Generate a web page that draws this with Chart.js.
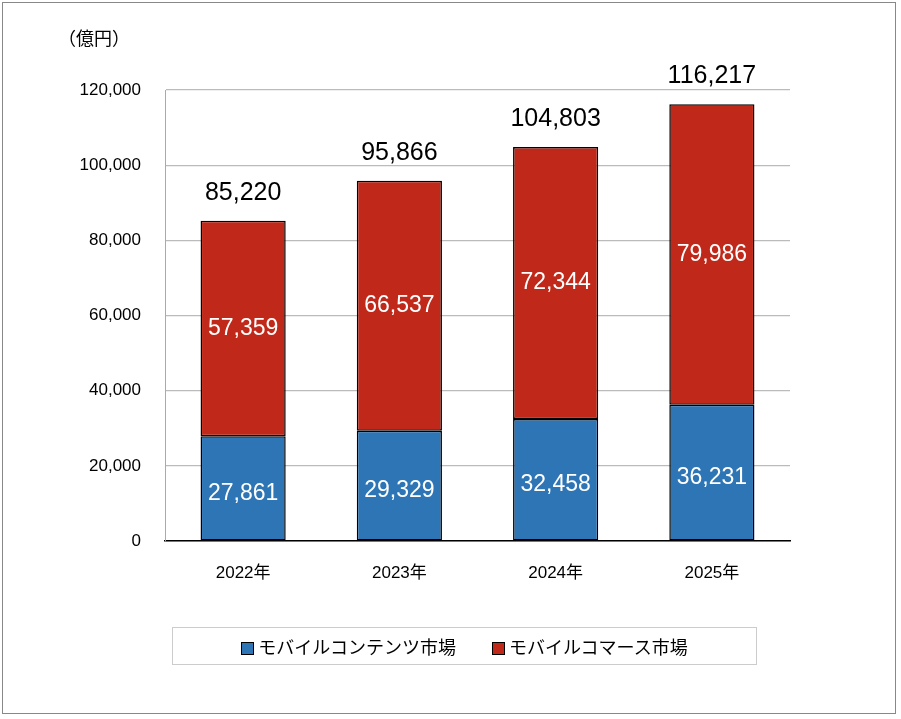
<!DOCTYPE html>
<html><head><meta charset="utf-8">
<script src="https://cdn.jsdelivr.net/npm/chart.js@4"></script>
<style>
body{margin:0;background:#fff;font-family:"Liberation Sans","Noto Sans CJK JP",sans-serif;}
#wrap{position:relative;width:901px;height:719px;}
#frame{position:absolute;left:2px;top:2px;width:894px;height:712px;border:1px solid #888;box-sizing:border-box;}
#unit{position:absolute;left:58px;top:24px;font-size:18px;color:#000;}
#legend{position:absolute;left:172px;top:627px;width:585px;height:38px;border:1px solid #ccc;box-sizing:border-box;display:flex;align-items:center;justify-content:center;gap:36px;font-size:18px;}
.sw{display:inline-block;width:11px;height:11px;border:1px solid #000;margin-right:4px;vertical-align:-1px;}
</style></head><body>
<div id="wrap">
<canvas id="c" width="901" height="719"></canvas>
<div id="frame"></div>
<div id="unit">（億円）</div>
<div id="legend">
<span><span class="sw" style="background:#2E75B6"></span>モバイルコンテンツ市場</span>
<span><span class="sw" style="background:#C0291A"></span>モバイルコマース市場</span>
</div>
</div>
<script>
const years = ['2022年', '2023年', '2024年', '2025年'];
const contents = [27861, 29329, 32458, 36231];
const commerce = [57359, 66537, 72344, 79986];
const totals = [85220, 95866, 104803, 116217];
const FONT = '"Liberation Sans","Noto Sans CJK JP",sans-serif';

const labelPlugin = {
  id: 'labels',
  afterDatasetsDraw(chart) {
    const ctx = chart.ctx;
    ctx.save();
    ctx.textAlign = 'center';
    ctx.textBaseline = 'middle';
    chart.data.datasets.forEach((ds, i) => {
      chart.getDatasetMeta(i).data.forEach((bar, j) => {
        ctx.fillStyle = '#fff';
        ctx.font = '23px ' + FONT;
        const mid = (bar.y + bar.base) / 2;
        ctx.fillText(ds.data[j].toLocaleString('en-US'), bar.x, i === 0 ? mid + 5 : mid);
      });
    });
    const top = chart.getDatasetMeta(1).data;
    ctx.fillStyle = '#000';
    ctx.font = '25px ' + FONT;
    top.forEach((bar, j) => {
      ctx.fillText(totals[j].toLocaleString('en-US'), bar.x, chart.scales.y.getPixelForValue(totals[j]) - 28);
    });
    ctx.restore();
  }
};

new Chart(document.getElementById('c'), {
  type: 'bar',
  data: {
    labels: years,
    datasets: [
      { data: contents, backgroundColor: '#2E75B6', borderColor: '#000', borderWidth: 1.5, borderSkipped: false },
      { data: commerce, backgroundColor: '#C0291A', borderColor: '#000', borderWidth: 1.5, borderSkipped: false }
    ]
  },
  options: {
    responsive: false,
    animation: false,
    layout: { padding: { top: 90, right: 111, bottom: 118, left: 0 } },
    plugins: { legend: { display: false }, tooltip: { enabled: false } },
    datasets: { bar: { categoryPercentage: 1, barPercentage: 0.545 } },
    scales: {
      x: {
        stacked: true,
        afterFit(s) { s.height = 60; },
        grid: { display: false },
        border: { color: '#000', width: 1.5 },
        ticks: { color: '#000', font: { size: 17, family: FONT }, padding: 14 }
      },
      y: {
        stacked: true,
        min: 0, max: 120000,
        afterFit(s) { s.width = 165; },
        grid: { color: '#bbb', drawTicks: false, lineWidth: 1.2 },
        border: { color: '#aaa' },
        ticks: { stepSize: 20000, color: '#000', padding: 24, font: { size: 17, family: FONT },
          callback: v => v.toLocaleString('en-US') }
      }
    }
  },
  plugins: [labelPlugin]
});
</script>
</body></html>
